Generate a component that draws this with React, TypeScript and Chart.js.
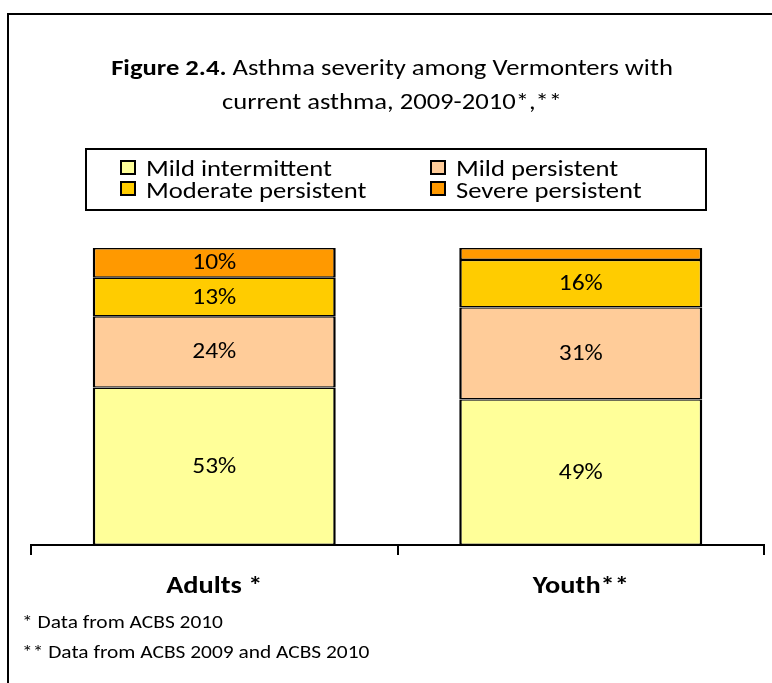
import React, { useEffect, useRef } from 'react';
import { Chart, registerables } from 'chart.js';

Chart.register(...registerables);

const categories = ['Adults *', 'Youth**'];
const mildIntermittent = [53, 49];
const mildPersistent = [24, 31];
const moderatePersistent = [13, 16];
const severePersistent = [10, 4];
const seriesNames = ['Mild intermittent', 'Mild persistent', 'Moderate persistent', 'Severe persistent'];
const seriesColors = ['#FFFF99', '#FFCC99', '#FFCC00', '#FF9900'];
const titleBold = 'Figure 2.4.';
const titleRest = ' Asthma severity among Vermonters with';
const titleLine2 = 'current asthma, 2009-2010*,**';
const footnotes = ['* Data from ACBS 2010', '** Data from ACBS 2009 and ACBS 2010'];

const FONT = 'Carlito, Lato, "Open Sans", sans-serif';
const SX = 1.157;

function drawText(ctx: CanvasRenderingContext2D, text: string, x: number, y: number, align: CanvasTextAlign) {
  ctx.save();
  ctx.translate(x, y);
  ctx.scale(SX, 1);
  ctx.textAlign = align;
  ctx.fillText(text, 0, 0);
  ctx.restore();
}

const decorPlugin = {
  id: 'decor',
  afterDraw(chart: any) {
    const ctx = chart.ctx as CanvasRenderingContext2D;
    ctx.save();
    // outer frame
    ctx.strokeStyle = '#000';
    ctx.lineWidth = 2;
    ctx.strokeRect(8, 14, 820, 720);

    ctx.fillStyle = '#000';
    ctx.textBaseline = 'alphabetic';

    // title
    ctx.font = `bold 23px ${FONT}`;
    const wb = ctx.measureText(titleBold).width * SX;
    ctx.font = `23px ${FONT}`;
    const wr = ctx.measureText(titleRest).width * SX;
    const cx = 392;
    const x0 = cx - (wb + wr) / 2;
    ctx.font = `bold 23px ${FONT}`;
    drawText(ctx, titleBold, x0, 75, 'left');
    ctx.font = `23px ${FONT}`;
    drawText(ctx, titleRest, x0 + wb, 75, 'left');
    drawText(ctx, titleLine2, cx, 109, 'center');

    // legend box
    ctx.lineWidth = 2;
    ctx.strokeRect(86, 149, 620, 61);
    const order = [0, 2, 1, 3];
    const colX = [120, 430];
    const rowBase = [176, 198];
    const boxTop = [160, 181];
    ctx.font = `23px ${FONT}`;
    order.forEach((si, k) => {
      const col = k < 2 ? 0 : 1;
      const row = k % 2;
      const bx = colX[col];
      const by = boxTop[row];
      ctx.fillStyle = seriesColors[si];
      ctx.fillRect(bx + 1, by + 1, 14, 13);
      ctx.lineWidth = 2;
      ctx.strokeStyle = '#000';
      ctx.strokeRect(bx + 1, by + 1, 14, 13);
      ctx.fillStyle = '#000';
      drawText(ctx, seriesNames[si], bx + 26, rowBase[row], 'left');
    });

    // data labels
    ctx.font = `22px ${FONT}`;
    ctx.textBaseline = 'middle';
    chart.data.datasets.forEach((ds: any, di: number) => {
      const meta = chart.getDatasetMeta(di);
      meta.data.forEach((el: any, i: number) => {
        const v = ds.data[i];
        if (v < 5) return;
        drawText(ctx, v + '%', el.x, (el.y + el.base) / 2 + 1, 'center');
      });
    });

    // category labels
    ctx.textBaseline = 'alphabetic';
    ctx.font = `bold 24.5px ${FONT}`;
    const xs = chart.scales.x;
    categories.forEach((c, i) => {
      drawText(ctx, c, xs.getPixelForValue(i), 593, 'center');
    });

    // footnotes
    ctx.font = `18.5px ${FONT}`;
    drawText(ctx, footnotes[0], 22, 628, 'left');
    drawText(ctx, footnotes[1], 22, 658, 'left');
    ctx.restore();
  },
};

export default function App() {
  const ref = useRef<HTMLCanvasElement | null>(null);
  useEffect(() => {
    if (!ref.current) return;
    const data = [mildIntermittent, mildPersistent, moderatePersistent, severePersistent];
    const chart = new Chart(ref.current, {
      type: 'bar',
      data: {
        labels: categories,
        datasets: seriesNames.map((name, i) => ({
          label: name,
          data: data[i],
          backgroundColor: seriesColors[i],
          borderColor: '#000',
          borderWidth: { left: 2.5, right: 2.5, top: 1.4, bottom: 1.4 },
          borderSkipped: false,
          barPercentage: 0.663,
          categoryPercentage: 1,
        })),
      },
      options: {
        responsive: false,
        animation: false,
        events: [],
        layout: { padding: { left: 31, right: 8, top: 248, bottom: 64 } },
        plugins: {
          legend: { display: false },
          title: { display: false },
          tooltip: { enabled: false },
        },
        scales: {
          x: {
            stacked: true,
            offset: true,
            grid: {
              display: true,
              drawOnChartArea: false,
              drawTicks: true,
              tickLength: 10,
              color: '#000',
              lineWidth: 2,
              offset: true,
            },
            border: { display: true, color: '#000', width: 2 },
            ticks: {
              color: 'rgba(0,0,0,0)',
              font: { family: FONT, size: 20, weight: 'bold' },
              padding: 20,
            },
          },
          y: {
            stacked: true,
            display: false,
            min: 0,
            max: 100,
          },
        },
      },
      plugins: [decorPlugin],
    });
    return () => chart.destroy();
  }, []);
  return (
    <div style={{ position: 'fixed', left: 0, top: 0, width: 772, height: 683, background: '#fff' }}>
      <canvas ref={ref} width={772} height={683} style={{ width: 772, height: 683 }} />
    </div>
  );
}
